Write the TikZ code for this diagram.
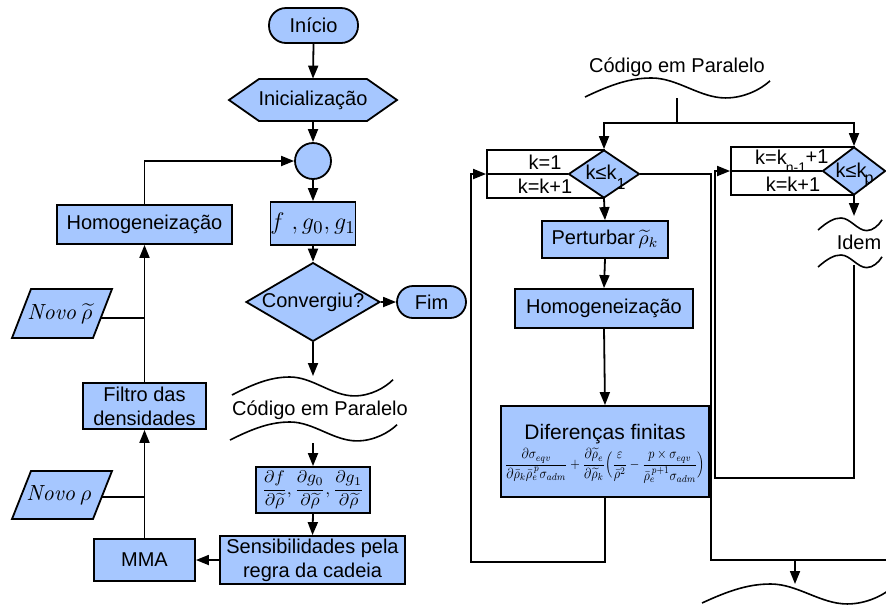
\documentclass[tikz,border=0pt]{standalone}
\usepackage[no-math]{fontspec}
\setmainfont{Liberation Sans}
\usepackage{amsmath}
\usepackage{graphicx}
\usetikzlibrary{arrows.meta,shapes.geometric,calc}
\definecolor{boxblue}{RGB}{166,199,255}
\tikzset{
  flow/.style={line width=0.9pt},
  arr/.style={flow,-{Triangle[length=6.5pt,width=5pt]}},
  box/.style={draw, fill=boxblue, line width=0.9pt, inner sep=0pt, align=center},
  frame/.style={draw, line width=0.9pt, inner sep=0pt},
  size/.style 2 args={minimum width=#1, minimum height=#2},
  wavy/.style={line width=0.8pt},
  small/.style={font=\fontsize{8}{9}\selectfont},
  tiny/.style={font=\fontsize{7}{8}\selectfont}
}
% one wavy stroke: start point, width, amplitude
\newcommand\wavestroke[4]{%
  \begin{scope}[shift={(#1,#2)}, xscale=#3, yscale=#4]
    \draw[wavy] (0,0) .. controls (0.15,-0.7) and (0.25,-1) .. (0.36,-1)
      .. controls (0.5,-1) and (0.62,0.05) .. (0.76,0.05)
      .. controls (0.86,0.05) and (0.95,-0.4) .. (1,-0.85);
  \end{scope}}
\begin{document}
\begin{tikzpicture}[x=0.5pt,y=-0.5pt,font=\fontsize{10}{12}\selectfont]
\path[use as bounding box] (0,0) rectangle (886,606);
\clip (0,0) rectangle (886,606);

% ---------- main loop ----------
\node[box, rounded corners=8.5pt, size={44.5pt}{17.5pt}] (inicio) at (313.5,25.5) {Início};

\fill[boxblue] (229,100) -- (259,79) -- (367,79) -- (397,100) -- (367,121) -- (259,121) -- cycle;
\draw[flow] (229,100) -- (259,79) -- (367,79) -- (397,100) -- (367,121) -- (259,121) -- cycle;
\node[inner sep=0pt, size={54pt}{21pt}] (init) at (313,100) {Inicialização};

\node[box, circle, minimum size=18pt] (join) at (313,161) {};
\node[box, size={42pt}{21.5pt}, font=\fontsize{12.5}{14}\selectfont] (fg) at (313,223.5) {$f\ ,g_0,g_1$};
\node[box, diamond, minimum width=66pt, minimum height=39pt, shape aspect=1.7] (conv) at (313,302) {Convergiu?};
\node[box, rounded corners=8pt, size={34.5pt}{16pt}] (fim) at (431.5,302) {Fim};

\draw[arr] (inicio.south) -- (init.north);
\draw[arr] (init.south) -- (join.north);
\draw[arr] (join.south) -- (fg.north);
\draw[arr] (fg.south) -- (conv.north);
\draw[arr] (conv.east) -- (fim.west);

% parallel section marker
\wavestroke{232}{395}{161}{18}
\wavestroke{230}{440}{167}{18}
\node (par1) at (320,410) {Código em Paralelo};
\coordinate (par1top) at (313,376);
\coordinate (par1bot) at (313,443);
\draw[arr] (conv.south) -- (par1top);

\node[box, size={57pt}{23pt}] (deriv) at (313,490)
  {\resizebox*{51pt}{19pt}{$\displaystyle\frac{\partial f}{\partial\widetilde{\rho}},\frac{\partial g_0}{\partial\widetilde{\rho}},\frac{\partial g_1}{\partial\widetilde{\rho}}$}};
\node[box, size={92.5pt}{24pt}, font=\fontsize{10}{12}\selectfont] (sens) at (312.5,560) {Sensibilidades pela\\regra da cadeia};
\node[box, size={50.5pt}{21pt}] (mma) at (144.5,560) {MMA};
\node[box, size={61.5pt}{23pt}, font=\fontsize{10}{12}\selectfont] (filtro) at (144.5,406) {Filtro das\\densidades};
\node[box, size={87.5pt}{19.5pt}] (homog1) at (144.5,224.5) {Homogeneização};

\draw[arr] (par1bot) -- (deriv.north);
\draw[arr] (deriv.south) -- (sens.north);
\draw[arr] (sens.west) -- (mma.east);
\draw[arr] (mma.north) -- (filtro.south);
\draw[arr] (filtro.north) -- (homog1.south);
\draw[arr] (homog1.north) |- (join.west);

% data inputs
\fill[boxblue] (31,471) -- (112,471) -- (93,519) -- (12,519) -- cycle;
\draw[flow] (31,471) -- (112,471) -- (93,519) -- (12,519) -- cycle;
\node[font=\fontsize{11}{13}\selectfont] (novorho) at (59,495) {$\mathit{Novo}\,\rho$};
\coordinate (novorho-e) at (101,497);
\draw[flow] (novorho-e) -- (novorho-e -| mma.north);

\fill[boxblue] (31,289) -- (112,289) -- (93,338) -- (12,338) -- cycle;
\draw[flow] (31,289) -- (112,289) -- (93,338) -- (12,338) -- cycle;
\node[font=\fontsize{11}{13}\selectfont] (novotil) at (60,314) {$\mathit{Novo}\,\widetilde{\rho}$};
\coordinate (novotil-e) at (101,318);
\draw[flow] (novotil-e) -- (novotil-e -| homog1.south);

% ---------- parallel code ----------
\node (par2) at (677,67) {Código em Paralelo};
\wavestroke{585}{97}{185}{19}
\coordinate (par2bot) at (677,98);
\coordinate (split) at (677,123);
\draw[flow] (par2bot) -- (split);

% first loop
\node[frame, size={58.5pt}{24pt}] (r1) at (545.5,174) {};
\node[box, diamond, minimum width=35.5pt, minimum height=24pt, shape aspect=1.48] (d1) at (604,174) {};
\draw[flow] (r1.west) -- (d1.west);
\node at (545,162) {k=1};
\node at (545,186) {k=k+1};
\node at (601,172) {k≤k};
\node[small] at (621,184) {1};

\node[box, size={63pt}{18.5pt}] (pert) at (605,239.5) {Perturbar\,$\widetilde{\rho}_k$};
\node[box, size={89pt}{19.5pt}] (homog2) at (604,308.5) {Homogeneização};
\node[box, size={104pt}{45.5pt}] (dif) at (605,451.5) {};
\node[font=\fontsize{10.5}{12}\selectfont] (diftitle) at (605,434) {Diferenças finitas};
\node[inner sep=0pt] (difformula) at (605,466)
  {\resizebox*{100pt}{17.5pt}{$\displaystyle\frac{\partial\sigma_{eqv}}{\partial\bar{\rho}_k\bar{\rho}_e^{\,p}\sigma_{adm}}
   +\frac{\partial\widetilde{\rho}_e}{\partial\widetilde{\rho}_k}\Bigl(\frac{\varepsilon}{\bar{\rho}^2}
   -\frac{p\times\sigma_{eqv}}{\bar{\rho}_e^{\,p+1}\sigma_{adm}}\Bigr)$}};

\draw[arr] (split) -| (d1.north);
\draw[arr] (d1.south) -- (pert.north);
\draw[arr] (pert.south) -- (homog2.north);
\draw[arr] (homog2.south) -- (dif.north);
\draw[arr] (dif.south) -- ++(0,64) -| (471,174) -- (r1.west);

% last loop
\node[frame, size={61.5pt}{24pt}] (r2) at (792.5,171) {};
\node[box, diamond, minimum width=31.5pt, minimum height=24pt, shape aspect=1.3] (d2) at (854,171) {};
\draw[flow] (r2.west) -- (d2.west);
\node at (771,157) {k=k};
\node[tiny] at (796,168) {n-1};
\node at (817,157) {+1};
\node at (793,184) {k=k+1};
\node at (851,170) {k≤k};
\node[small] at (869,181) {p};

\wavestroke{818}{230}{64}{12}
\wavestroke{818}{267}{64}{12}
\node (idem) at (859,242) {Idem};
\coordinate (idemtop) at (854,216);
\coordinate (idembot) at (854,265);
\draw[arr] (split) -| (d2.north);
\draw[arr] (d2.south) -- (idemtop);
\draw[arr] (idembot) -- (854,478) -| (715,171) -- (r2.west);

% gathering of the loops
\coordinate (merge) at (795,560);
\draw[flow] (d1.east) -| (711,560) -- (890,560);
\wavestroke{702}{603}{191}{19}
\draw[arr] (merge) -- (795,584);
\end{tikzpicture}
\end{document}
